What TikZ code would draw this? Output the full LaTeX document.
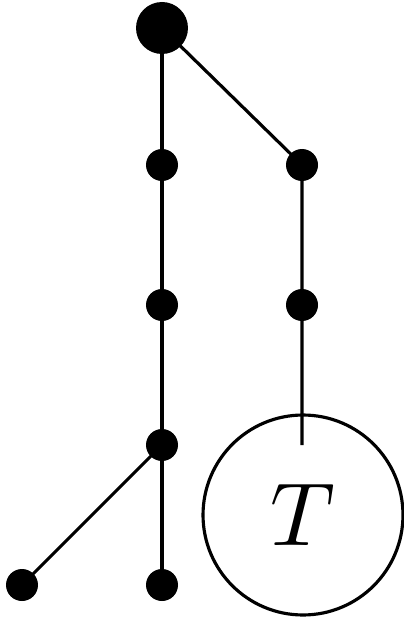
\documentclass[tikz,border=0pt]{standalone}
\usepackage{graphicx}
\begin{document}
\begin{tikzpicture}[x=0.02cm,y=-0.02cm,
  dot/.style={circle,fill=black,inner sep=0pt,minimum size=0.64cm},
  bigdot/.style={circle,fill=black,inner sep=0pt,minimum size=1.04cm},
  edge/.style={line width=1.8pt},
  tree/.style={circle,draw,line width=1.8pt,inner sep=0pt,minimum size=4cm}]
\useasboundingbox (0,0) rectangle (404,624);
\node[bigdot] (r) at (162,28) {};
\node[dot] (a1) at (162,165) {};
\node[dot] (b1) at (302,165) {};
\node[dot] (a2) at (162,305) {};
\node[dot] (b2) at (302,305) {};
\node[dot] (a3) at (162,445) {};
\node[dot] (l) at (22,585) {};
\node[dot] (m) at (162,585) {};
\node[tree] (t) at (303,515) {\scalebox{5.1}{$T$}};
\coordinate (tc) at (302,445);
\draw[edge] (r.center) -- (a1.center) -- (a2.center) -- (a3.center) -- (m.center);
\draw[edge] (a3.center) -- (l.center);
\draw[edge] (r.center) -- (b1.center) -- (b2.center) -- (tc);
\end{tikzpicture}
\end{document}
